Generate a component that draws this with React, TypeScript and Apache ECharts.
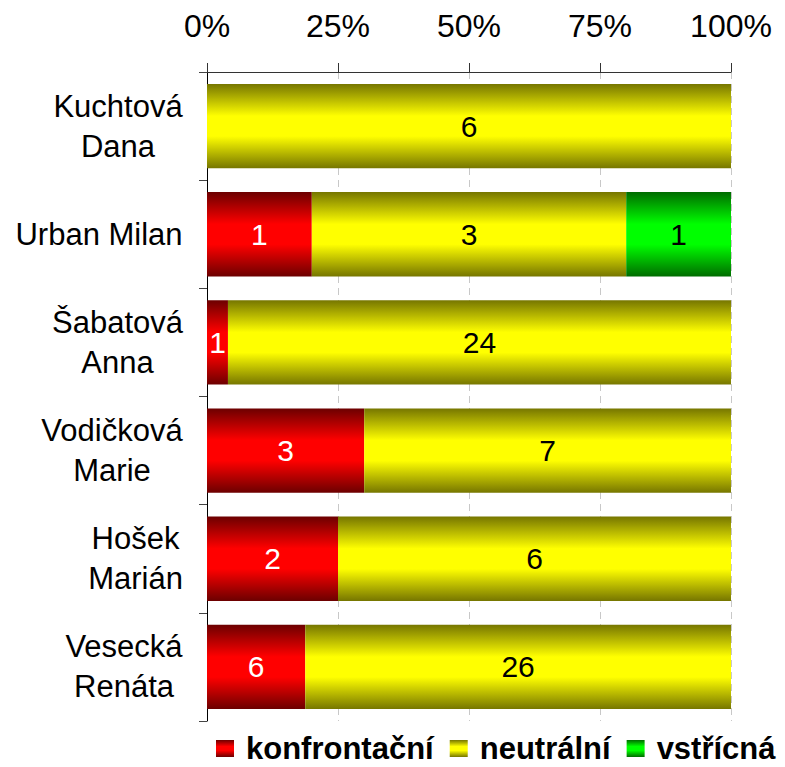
import React, { useEffect, useRef } from "react";
import * as echarts from "echarts";

const categories = [
  "Kuchtová\nDana",
  "Urban Milan",
  "Šabatová\nAnna",
  "Vodičková\nMarie",
  "Hošek\nMarián",
  "Vesecká\nRenáta",
];
const seriesNames = ["konfrontační", "neutrální", "vstřícná"];
const konfrontacni = [0, 1, 1, 3, 2, 6];
const neutralni = [6, 3, 24, 7, 6, 26];
const vstricna = [0, 1, 0, 0, 0, 0];
const xTicks = [0, 25, 50, 75, 100];

const FONT = "'Liberation Sans', Arial, sans-serif";

function grad(dark: string, bright: string) {
  return new echarts.graphic.LinearGradient(0, 0, 0, 1, [
    { offset: 0, color: dark },
    { offset: 0.38, color: bright },
    { offset: 0.62, color: bright },
    { offset: 1, color: dark },
  ]);
}

export default function App() {
  const ref = useRef<HTMLDivElement>(null);
  useEffect(() => {
    if (!ref.current) return;
    const chart = echarts.init(ref.current, undefined, { renderer: "svg" });
    const totals = categories.map(
      (_, i) => konfrontacni[i] + neutralni[i] + vstricna[i]
    );
    const pct = (arr: number[]) => arr.map((v, i) => (v / totals[i]) * 100);

    // measure category label widths for centred multi-line blocks
    const cv = document.createElement("canvas").getContext("2d")!;
    const catSize = 31;
    cv.font = `${catSize}px 'Liberation Sans', Arial, sans-serif`;
    const rich: Record<string, any> = {};
    categories.forEach((c, i) => {
      const w = Math.max(...c.split("\n").map((l) => cv.measureText(l).width));
      rich["c" + i] = {
        width: Math.ceil(w),
        align: "center",
        fontSize: catSize,
        fontFamily: FONT,
        color: "#000",
        lineHeight: 40,
      };
    });

    const mkSeries = (
      name: string,
      raw: number[],
      color: any,
      labelColor: string
    ) => ({
      name,
      type: "bar",
      stack: "total",
      barCategoryGap: "22%",
      data: pct(raw),
      itemStyle: { color },
      label: {
        show: true,
        position: "inside",
        color: labelColor,
        fontSize: 30,
        fontFamily: FONT,
        formatter: (p: any) => (raw[p.dataIndex] ? String(raw[p.dataIndex]) : ""),
      },
    });

    chart.setOption({
      animation: false,
      backgroundColor: "#fff",
      grid: { left: 207, right: 54, top: 72, bottom: 46 },
      xAxis: {
        type: "value",
        position: "top",
        min: xTicks[0],
        max: xTicks[xTicks.length - 1],
        interval: 25,
        axisLine: { show: true, lineStyle: { color: "#333", width: 1 } },
        axisTick: { show: true, length: 9, lineStyle: { color: "#333" } },
        axisLabel: {
          formatter: "{value}%",
          fontSize: 32,
          fontFamily: FONT,
          color: "#000",
          margin: 30,
        },
        splitLine: {
          show: true,
          lineStyle: { color: "#c8c8c8", type: [7, 5], width: 1 },
        },
      },
      yAxis: {
        type: "category",
        inverse: true,
        data: categories,
        axisLine: { show: true, lineStyle: { color: "#000", width: 1 } },
        axisTick: { show: true, length: 8, lineStyle: { color: "#444" } },
        axisLabel: {
          margin: 24,
          formatter: (v: string) => {
            const i = categories.indexOf(v);
            return v
              .split("\n")
              .map((l) => `{c${i}|${l}}`)
              .join("\n");
          },
          rich,
        },
        splitLine: { show: false },
      },
      legend: {
        top: 733,
        left: 216,
        padding: 0,
        itemWidth: 18,
        itemHeight: 17,
        itemGap: 16,
        icon: "rect",
        data: seriesNames,
        textStyle: {
          fontSize: 31,
          lineHeight: 30,
          fontWeight: "bold",
          fontFamily: FONT,
          color: "#000",
          padding: [0, 0, 0, 7],
        },
      },
      series: [
        mkSeries(seriesNames[0], konfrontacni, grad("#6c0000", "#ff0000"), "#fff"),
        mkSeries(seriesNames[1], neutralni, grad("#767600", "#ffff00"), "#000"),
        mkSeries(seriesNames[2], vstricna, grad("#006c00", "#00ff00"), "#000"),
      ],
    });
    return () => chart.dispose();
  }, []);
  return (
    <div
      ref={ref}
      style={{ position: "fixed", left: 0, top: 0, width: 785, height: 767 }}
    />
  );
}
